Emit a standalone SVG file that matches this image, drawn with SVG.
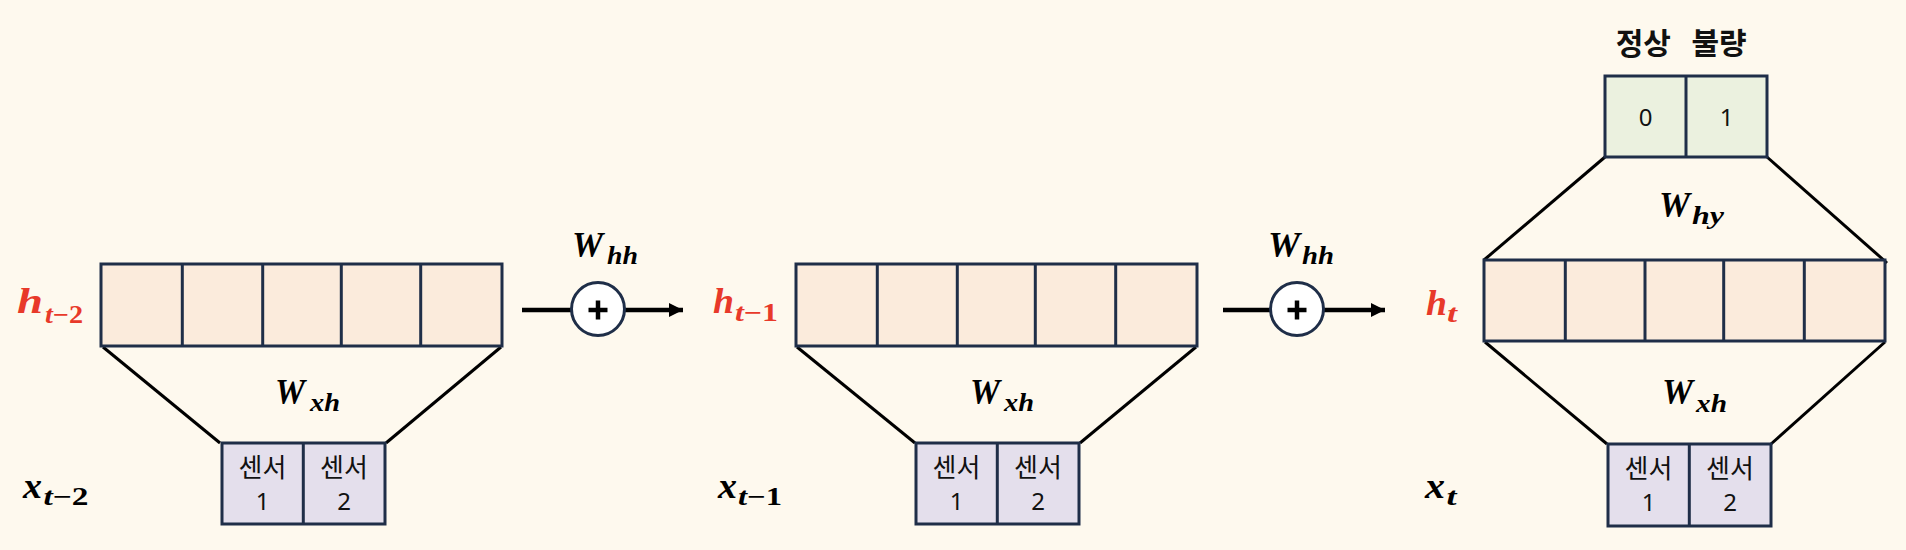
<svg xmlns="http://www.w3.org/2000/svg" width="1906" height="550" viewBox="0 0 1906 550">
<style>
.bg{fill:#FEF9EE}
.hcell{fill:#FBEBDC;stroke:#1F2E48;stroke-width:3}
.scell{fill:#E4DFEC;stroke:#1F2E48;stroke-width:3}
.ocell{fill:#EBF1DF;stroke:#1F2E48;stroke-width:3}
.div{stroke:#1F2E48;stroke-width:3}
.trap{stroke:#000;stroke-width:3;fill:none}
.m{font-family:"Liberation Serif","DejaVu Serif",serif;font-weight:bold;font-style:italic;font-size:35px;fill:#000}
.s{font-family:"Liberation Serif","DejaVu Serif",serif;font-weight:bold;font-style:italic;font-size:25px;fill:#000}
.up{font-style:normal}
.red{fill:#E8392A}
.cell{font-family:"Noto Sans CJK KR","Noto Sans",sans-serif;fill:#111;text-anchor:middle}
.kr{font-family:"Noto Sans CJK KR","Noto Sans",sans-serif;font-size:26px}
.dg{font-family:"Noto Sans","Noto Sans CJK KR",sans-serif;font-size:24px;fill:#111;text-anchor:middle}
.krb{font-family:"Noto Sans CJK KR","Noto Sans",sans-serif;font-size:30px;font-weight:bold;fill:#111;text-anchor:middle}
.arr{stroke:#000;stroke-width:4.5;fill:none}
.circ{fill:#FFFFFF;stroke:#1F2E48;stroke-width:3}
.plus{stroke:#000;stroke-width:4.5}
</style>
<defs>
<marker id="ah" markerUnits="userSpaceOnUse" markerWidth="16" markerHeight="16" refX="14" refY="7" orient="auto">
<path d="M0,0 L14,7 L0,14 Z" fill="#000"/>
</marker>
</defs>
<rect class="bg" x="0" y="0" width="1906" height="550"/>

<g id="connectors">
<line class="trap" x1="103" y1="347" x2="220" y2="443"/>
<line class="trap" x1="501" y1="347" x2="386" y2="443"/>
<line class="trap" x1="797" y1="347" x2="915" y2="443"/>
<line class="trap" x1="1196" y1="347" x2="1080" y2="443"/>
<line class="trap" x1="1485" y1="342" x2="1607" y2="444"/>
<line class="trap" x1="1885" y1="342" x2="1771" y2="444"/>
<line class="trap" x1="1605" y1="157" x2="1484" y2="260"/>
<line class="trap" x1="1767" y1="157" x2="1887" y2="263"/>
<line class="arr" x1="522" y1="310" x2="572" y2="310"/>
<line class="arr" x1="625" y1="310" x2="683" y2="310" marker-end="url(#ah)"/>
<line class="arr" x1="1223" y1="310" x2="1270" y2="310"/>
<line class="arr" x1="1324" y1="310" x2="1385" y2="310" marker-end="url(#ah)"/>
</g>

<g id="sum1">
<circle class="circ" cx="598" cy="309" r="26.5"/>
<line class="plus" x1="588.5" y1="310" x2="607.5" y2="310"/>
<line class="plus" x1="598" y1="300.5" x2="598" y2="319.5"/>
</g>
<g id="sum2">
<circle class="circ" cx="1297" cy="309" r="26.5"/>
<line class="plus" x1="1287.5" y1="310" x2="1306.5" y2="310"/>
<line class="plus" x1="1297" y1="300.5" x2="1297" y2="319.5"/>
</g>

<g id="h1">
<rect class="hcell" x="101" y="264" width="401" height="82"/>
<line class="div" x1="182.3" y1="264" x2="182.3" y2="346"/>
<line class="div" x1="262.7" y1="264" x2="262.7" y2="346"/>
<line class="div" x1="341.3" y1="264" x2="341.3" y2="346"/>
<line class="div" x1="420.7" y1="264" x2="420.7" y2="346"/>
</g>
<g id="h2">
<rect class="hcell" x="796" y="264" width="401" height="82"/>
<line class="div" x1="877.3" y1="264" x2="877.3" y2="346"/>
<line class="div" x1="957.3" y1="264" x2="957.3" y2="346"/>
<line class="div" x1="1035.3" y1="264" x2="1035.3" y2="346"/>
<line class="div" x1="1115.7" y1="264" x2="1115.7" y2="346"/>
</g>
<g id="h3">
<rect class="hcell" x="1484" y="260" width="401" height="81"/>
<line class="div" x1="1565.3" y1="260" x2="1565.3" y2="341"/>
<line class="div" x1="1645" y1="260" x2="1645" y2="341"/>
<line class="div" x1="1723.7" y1="260" x2="1723.7" y2="341"/>
<line class="div" x1="1804.3" y1="260" x2="1804.3" y2="341"/>
</g>

<g id="x1">
<rect class="scell" x="222" y="443" width="163" height="81"/>
<line class="div" x1="303.3" y1="443" x2="303.3" y2="524"/>
<text class="cell"><tspan class="kr" x="262.5" y="477">센서</tspan><tspan class="dg" x="262.5" y="510">1</tspan></text>
<text class="cell"><tspan class="kr" x="344" y="477">센서</tspan><tspan class="dg" x="344" y="510">2</tspan></text>
</g>
<g id="x2">
<rect class="scell" x="916" y="443" width="163" height="81"/>
<line class="div" x1="997.3" y1="443" x2="997.3" y2="524"/>
<text class="cell"><tspan class="kr" x="956.5" y="477">센서</tspan><tspan class="dg" x="956.5" y="510">1</tspan></text>
<text class="cell"><tspan class="kr" x="1038" y="477">센서</tspan><tspan class="dg" x="1038" y="510">2</tspan></text>
</g>
<g id="x3">
<rect class="scell" x="1608" y="444" width="163" height="82"/>
<line class="div" x1="1689.3" y1="444" x2="1689.3" y2="526"/>
<text class="cell"><tspan class="kr" x="1648.5" y="478">센서</tspan><tspan class="dg" x="1648.5" y="511">1</tspan></text>
<text class="cell"><tspan class="kr" x="1730" y="478">센서</tspan><tspan class="dg" x="1730" y="511">2</tspan></text>
</g>

<g id="y">
<rect class="ocell" x="1605" y="76" width="162" height="81"/>
<line class="div" x1="1686" y1="76" x2="1686" y2="157"/>
<text class="dg" x="1645.5" y="126">0</text>
<text class="dg" x="1726.5" y="126">1</text>
<text class="krb"><tspan x="1643.3" y="54">정상</tspan><tspan x="1719" y="54">불량</tspan></text>
</g>

<g id="labels">
<g id="lbl-h-t2"><text class="m red" x="17" y="313" textLength="26" lengthAdjust="spacingAndGlyphs">h</text><text class="s red" x="45" y="323" textLength="38" lengthAdjust="spacingAndGlyphs">t<tspan class="up">−2</tspan></text></g>
<g id="lbl-h-t1"><text class="m red" x="713" y="313" textLength="21" lengthAdjust="spacingAndGlyphs">h</text><text class="s red" x="735" y="321" textLength="43" lengthAdjust="spacingAndGlyphs">t<tspan class="up">−1</tspan></text></g>
<g id="lbl-h-t"><text class="m red" x="1426" y="315" textLength="21" lengthAdjust="spacingAndGlyphs">h</text><text class="s red" x="1447" y="322" textLength="10" lengthAdjust="spacingAndGlyphs">t</text></g>

<g id="lbl-x-t2"><text class="m" x="23" y="498" textLength="19" lengthAdjust="spacingAndGlyphs">x</text><text class="s" x="43.5" y="505" textLength="45" lengthAdjust="spacingAndGlyphs">t<tspan class="up">−2</tspan></text></g>
<g id="lbl-x-t1"><text class="m" x="718" y="498" textLength="19" lengthAdjust="spacingAndGlyphs">x</text><text class="s" x="738" y="505" textLength="44" lengthAdjust="spacingAndGlyphs">t<tspan class="up">−1</tspan></text></g>
<g id="lbl-x-t"><text class="m" x="1425" y="498" textLength="20" lengthAdjust="spacingAndGlyphs">x</text><text class="s" x="1446.5" y="505" textLength="10" lengthAdjust="spacingAndGlyphs">t</text></g>

<g id="lbl-wxh1"><text class="m" x="275" y="404" textLength="30" lengthAdjust="spacingAndGlyphs">W</text><text class="s" x="310" y="411" textLength="30" lengthAdjust="spacingAndGlyphs">xh</text></g>
<g id="lbl-wxh2"><text class="m" x="970" y="404" textLength="30" lengthAdjust="spacingAndGlyphs">W</text><text class="s" x="1004" y="411" textLength="30" lengthAdjust="spacingAndGlyphs">xh</text></g>
<g id="lbl-wxh3"><text class="m" x="1662" y="404" textLength="31" lengthAdjust="spacingAndGlyphs">W</text><text class="s" x="1696" y="412" textLength="31" lengthAdjust="spacingAndGlyphs">xh</text></g>

<g id="lbl-why"><text class="m" x="1659" y="217" textLength="31" lengthAdjust="spacingAndGlyphs">W</text><text class="s" x="1692" y="224" textLength="32" lengthAdjust="spacingAndGlyphs">hy</text></g>

<g id="lbl-whh1"><text class="m" x="572" y="257" textLength="31" lengthAdjust="spacingAndGlyphs">W</text><text class="s" x="607" y="264" textLength="31" lengthAdjust="spacingAndGlyphs">hh</text></g>
<g id="lbl-whh2"><text class="m" x="1268" y="257" textLength="32" lengthAdjust="spacingAndGlyphs">W</text><text class="s" x="1302" y="264" textLength="32" lengthAdjust="spacingAndGlyphs">hh</text></g>
</g>
</svg>
